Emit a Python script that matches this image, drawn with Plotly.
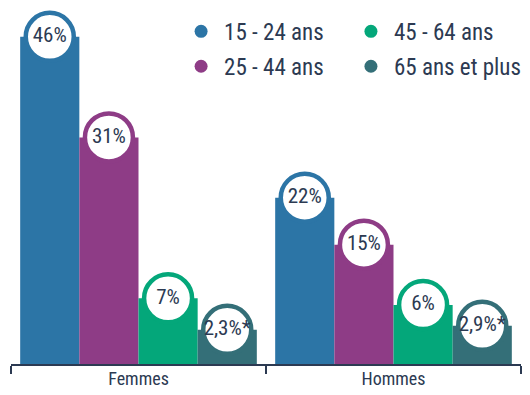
import plotly.graph_objects as go

categories = ["Femmes", "Hommes"]
series_names = ["15 - 24 ans", "25 - 44 ans", "45 - 64 ans", "65 ans et plus"]
v_15_24 = [46, 22]
v_25_44 = [31, 15]
v_45_64 = [7, 6]
v_65_plus = [2.3, 2.9]
lab_15_24 = ["46%", "22%"]
lab_25_44 = ["31%", "15%"]
lab_45_64 = ["7%", "6%"]
lab_65_plus = ["2,3%*", "2,9%*"]

series_values = [v_15_24, v_25_44, v_45_64, v_65_plus]
series_labels = [lab_15_24, lab_25_44, lab_45_64, lab_65_plus]
colors = ["#2c75a6", "#8e3c86", "#04a77a", "#346f78"]
TXT = "#2c3a52"
FONT = "Roboto Condensed, Roboto, sans-serif"

FLOOR = 2.8   # visual baseline below zero used by the original infographic
BAR_W = 0.232

fig = go.Figure()
for j, (name, vals, labs, col) in enumerate(zip(series_names, series_values, series_labels, colors)):
    xs = [i + (j - 1.5) * BAR_W for i in range(len(categories))]
    fig.add_trace(go.Bar(
        x=xs, y=[v + FLOOR for v in vals], base=[-FLOOR] * len(vals),
        width=BAR_W, marker=dict(color=col, line=dict(width=0)),
        showlegend=False, hoverinfo="skip"))
    fig.add_trace(go.Scatter(
        x=xs, y=vals, mode="markers+text", text=labs,
        textposition="middle center",
        textfont=dict(family=FONT, size=21, color=TXT),
        marker=dict(size=48, color="white", line=dict(color=col, width=4.5)),
        cliponaxis=False, showlegend=False, hoverinfo="skip"))
    fig.add_trace(go.Scatter(
        x=[None], y=[None], mode="markers", name=name,
        marker=dict(size=13, color=col),
        legend="legend" if j < 2 else "legend2",
        legendgroup=name))

legend_common = dict(yanchor="top", xanchor="left", xref="container", yref="container",
                     font=dict(family=FONT, size=23, color=TXT),
                     itemwidth=36, bgcolor="rgba(0,0,0,0)", tracegroupgap=2)
fig.update_layout(
    width=530, height=395,
    margin=dict(l=11, r=9, t=10, b=31, autoexpand=False),
    plot_bgcolor="white", paper_bgcolor="white",
    barmode="overlay",
    showlegend=True,
    legend=dict(x=0.336, y=0.975, **legend_common),
    legend2=dict(x=0.6565, y=0.975, **legend_common),
    xaxis=dict(range=[-0.5, 1.5], tickmode="array", tickvals=[0, 1],
               ticktext=categories, ticks="", showgrid=False, zeroline=False,
               showline=True, linecolor=TXT, linewidth=2,
               ticklabelstandoff=-3,
               tickfont=dict(family=FONT, size=18, color=TXT),
               minor=dict(tickmode="array", tickvals=[-0.5, 0.5, 1.5],
                          ticks="outside", ticklen=8, tickwidth=2,
                          tickcolor=TXT, showgrid=False)),
    yaxis=dict(range=[-FLOOR, 50], visible=False, showgrid=False, zeroline=False),
)

fig.write_html("out.html", config={"displayModeBar": False},
               post_script="document.body.style.margin='0';")
